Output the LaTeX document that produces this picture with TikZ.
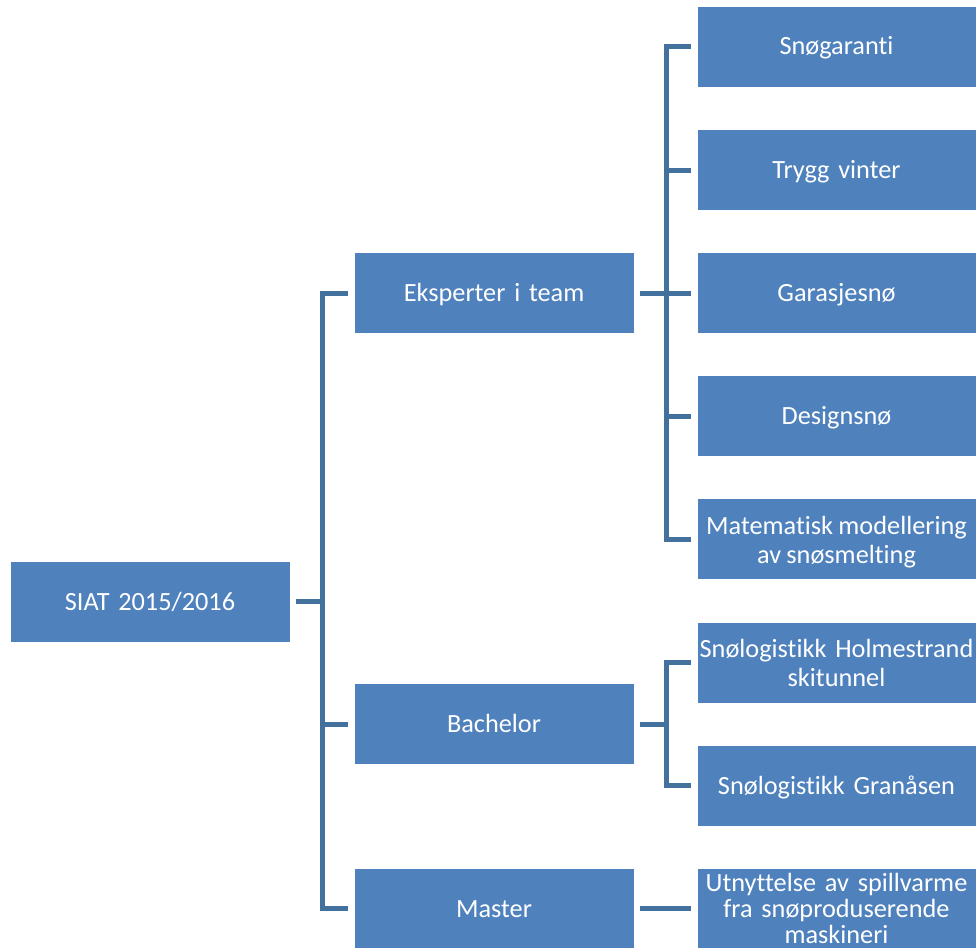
\documentclass[tikz,border=0pt]{standalone}
\usepackage{fontspec}
\setmainfont[Ligatures=NoCommon,WordSpace=0.9]{Carlito}
\definecolor{boxblue}{HTML}{4F81BD}
\definecolor{lineblue}{HTML}{41719C}
\begin{document}
\begin{tikzpicture}[x=1pt,y=-1pt,
  mbox/.style={rectangle, fill=boxblue, draw=white, line width=0.6pt, minimum width=280pt, minimum height=81pt, inner sep=0pt, text=white, align=center, text width=278pt, font=\fontsize{26.3}{29}\selectfont},
  box/.style={mbox, text height=20pt, text depth=3pt},
  rbox/.style={box, minimum width=279pt},
  rmbox/.style={mbox, minimum width=279pt},
  lbl/.style={font=\fontsize{26.3}{29}\selectfont, text=white, align=center, inner sep=0pt},
  conn/.style={draw=lineblue, line width=5pt, line join=miter, line cap=butt}]
\useasboundingbox[fill=white] (0,0) rectangle (976,947);
% left column
\node[box] (siat) at (150,601.5) {SIAT 2015/2016};
\node[box] (eks) at (494,293) {Eksperter i team};
\node[box] (bach) at (494,724) {Bachelor};
\node[box] (mast) at (494,908.5) {Master};
% right column
\node[rbox] (r1) at (836.5,46.5) {Snøgaranti};
\node[rbox] (r2) at (836.5,170) {Trygg vinter};
\node[rbox] (r3) at (836.5,293) {Garasjesnø};
\node[rbox] (r4) at (836.5,416) {Designsnø};
\node[rmbox] (r5) at (836.5,539) {};
\node[lbl] (r5t) at ([yshift=-3pt]r5.center) {Matematisk modellering\\av snøsmelting};
\node[rmbox] (r6) at (836.5,662.5) {Snølogistikk Holmestrand\\skitunnel};
\node[rbox] (r7) at (836.5,785.5) {Snølogistikk Granåsen};
\node[rmbox, font=\fontsize{26.3}{26}\selectfont] (r8) at (836.5,908.5) {Utnyttelse av spillvarme\\fra snøproduserende\\maskineri};
% trunks
\coordinate (t1) at (322.5,0);
\coordinate (t2) at (666,0);
% root connectors
\draw[conn] ([xshift=6pt]siat.east) -- (siat.east -| t1);
\draw[conn] ([xshift=-6pt]eks.west) -- (eks.west -| t1) -- (mast.west -| t1) -- ([xshift=-6pt]mast.west);
\draw[conn] ([xshift=-6pt]bach.west) -- (bach.west -| t1);
% Eksperter children
\draw[conn] ([xshift=6pt]eks.east) -- (eks.east -| t2);
\draw[conn] ([xshift=-6pt]r1.west) -- (r1.west -| t2) -- (r5.west -| t2) -- ([xshift=-6pt]r5.west);
\draw[conn] ([xshift=-6pt]r2.west) -- (r2.west -| t2);
\draw[conn] ([xshift=-6pt]r3.west) -- (r3.west -| t2);
\draw[conn] ([xshift=-6pt]r4.west) -- (r4.west -| t2);
% Bachelor children
\draw[conn] ([xshift=6pt]bach.east) -- (bach.east -| t2);
\draw[conn] ([xshift=-6pt]r6.west) -- (r6.west -| t2) -- (r7.west -| t2) -- ([xshift=-6pt]r7.west);
% Master child
\draw[conn] ([xshift=6pt]mast.east) -- ([xshift=-6pt]r8.west);
\end{tikzpicture}
\end{document}
